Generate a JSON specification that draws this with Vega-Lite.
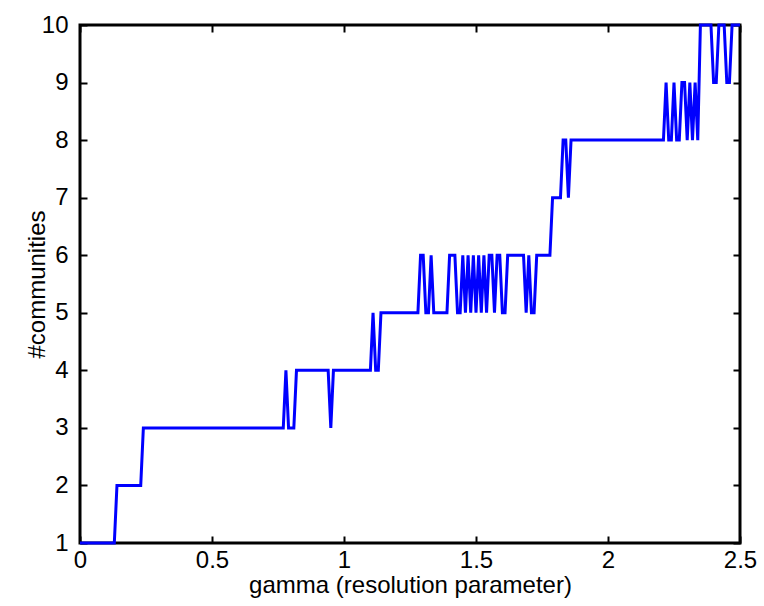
{
  "$schema": "https://vega.github.io/schema/vega-lite/v6.json",
  "width": 660,
  "height": 518,
  "autosize": {"type": "none"},
  "padding": {"left": 80, "top": 25, "right": 24, "bottom": 63},
  "background": "white",
  "config": {
    "view": {"stroke": "black", "strokeWidth": 3},
    "axis": {
      "labelFont": "Liberation Sans",
      "titleFont": "Liberation Sans",
      "labelFontSize": 24,
      "titleFontSize": 24,
      "titleFontWeight": "normal",
      "labelColor": "black",
      "titleColor": "black",
      "domain": false,
      "tickColor": "black",
      "tickWidth": 2,
      "tickSize": 7,
      "offset": -7,
      "grid": false,
      "labelFlush": false,
      "labelOverlap": false
    }
  },
  "data": {
    "values": [
      {"gamma": 0.0, "communities": 1},
      {"gamma": 0.13, "communities": 1},
      {"gamma": 0.14, "communities": 2},
      {"gamma": 0.23, "communities": 2},
      {"gamma": 0.24, "communities": 3},
      {"gamma": 0.77, "communities": 3},
      {"gamma": 0.78, "communities": 4},
      {"gamma": 0.79, "communities": 3},
      {"gamma": 0.81, "communities": 3},
      {"gamma": 0.82, "communities": 4},
      {"gamma": 0.94, "communities": 4},
      {"gamma": 0.95, "communities": 3},
      {"gamma": 0.96, "communities": 4},
      {"gamma": 1.10, "communities": 4},
      {"gamma": 1.11, "communities": 5},
      {"gamma": 1.12, "communities": 4},
      {"gamma": 1.13, "communities": 4},
      {"gamma": 1.14, "communities": 5},
      {"gamma": 1.28, "communities": 5},
      {"gamma": 1.29, "communities": 6},
      {"gamma": 1.30, "communities": 6},
      {"gamma": 1.31, "communities": 5},
      {"gamma": 1.32, "communities": 5},
      {"gamma": 1.33, "communities": 6},
      {"gamma": 1.34, "communities": 5},
      {"gamma": 1.39, "communities": 5},
      {"gamma": 1.40, "communities": 6},
      {"gamma": 1.42, "communities": 6},
      {"gamma": 1.43, "communities": 5},
      {"gamma": 1.44, "communities": 5},
      {"gamma": 1.45, "communities": 6},
      {"gamma": 1.46, "communities": 5},
      {"gamma": 1.47, "communities": 6},
      {"gamma": 1.48, "communities": 5},
      {"gamma": 1.49, "communities": 6},
      {"gamma": 1.50, "communities": 5},
      {"gamma": 1.51, "communities": 6},
      {"gamma": 1.52, "communities": 5},
      {"gamma": 1.53, "communities": 6},
      {"gamma": 1.54, "communities": 5},
      {"gamma": 1.55, "communities": 6},
      {"gamma": 1.56, "communities": 6},
      {"gamma": 1.57, "communities": 5},
      {"gamma": 1.58, "communities": 6},
      {"gamma": 1.59, "communities": 6},
      {"gamma": 1.60, "communities": 5},
      {"gamma": 1.61, "communities": 5},
      {"gamma": 1.62, "communities": 6},
      {"gamma": 1.68, "communities": 6},
      {"gamma": 1.69, "communities": 5},
      {"gamma": 1.70, "communities": 6},
      {"gamma": 1.71, "communities": 5},
      {"gamma": 1.72, "communities": 5},
      {"gamma": 1.73, "communities": 6},
      {"gamma": 1.78, "communities": 6},
      {"gamma": 1.79, "communities": 7},
      {"gamma": 1.82, "communities": 7},
      {"gamma": 1.83, "communities": 8},
      {"gamma": 1.84, "communities": 8},
      {"gamma": 1.85, "communities": 7},
      {"gamma": 1.86, "communities": 8},
      {"gamma": 2.21, "communities": 8},
      {"gamma": 2.22, "communities": 9},
      {"gamma": 2.23, "communities": 8},
      {"gamma": 2.24, "communities": 8},
      {"gamma": 2.25, "communities": 9},
      {"gamma": 2.26, "communities": 8},
      {"gamma": 2.27, "communities": 8},
      {"gamma": 2.28, "communities": 9},
      {"gamma": 2.29, "communities": 9},
      {"gamma": 2.30, "communities": 8},
      {"gamma": 2.31, "communities": 9},
      {"gamma": 2.32, "communities": 8},
      {"gamma": 2.33, "communities": 9},
      {"gamma": 2.34, "communities": 8},
      {"gamma": 2.35, "communities": 10},
      {"gamma": 2.39, "communities": 10},
      {"gamma": 2.40, "communities": 9},
      {"gamma": 2.41, "communities": 9},
      {"gamma": 2.42, "communities": 10},
      {"gamma": 2.44, "communities": 10},
      {"gamma": 2.45, "communities": 9},
      {"gamma": 2.46, "communities": 9},
      {"gamma": 2.47, "communities": 10},
      {"gamma": 2.50, "communities": 10}
    ]
  },
  "layer": [
    {
      "mark": {"type": "line", "color": "#0000ff", "strokeWidth": 3, "clip": false},
      "encoding": {
        "x": {
          "field": "gamma", "type": "quantitative",
          "scale": {"domain": [0, 2.5], "nice": false, "zero": false},
          "axis": {"values": [0, 0.5, 1, 1.5, 2, 2.5], "title": "gamma (resolution parameter)", "labelPadding": 5, "titlePadding": 1, "format": "~g"}
        },
        "y": {
          "field": "communities", "type": "quantitative",
          "scale": {"domain": [1, 10], "nice": false, "zero": false},
          "axis": {"values": [1, 2, 3, 4, 5, 6, 7, 8, 9, 10], "title": "#communities", "labelPadding": 12, "titlePadding": -8, "format": "d"}
        }
      }
    },
    {
      "mark": {"type": "line", "opacity": 0},
      "encoding": {
        "x": {
          "field": "gamma", "type": "quantitative",
          "scale": {"domain": [0, 2.5], "nice": false, "zero": false},
          "axis": {"orient": "top", "values": [0, 0.5, 1, 1.5, 2, 2.5], "labels": false, "title": null}
        },
        "y": {
          "field": "communities", "type": "quantitative",
          "scale": {"domain": [1, 10], "nice": false, "zero": false},
          "axis": {"orient": "right", "values": [1, 2, 3, 4, 5, 6, 7, 8, 9, 10], "labels": false, "title": null}
        }
      }
    }
  ],
  "resolve": {"axis": {"x": "independent", "y": "independent"}}
}
